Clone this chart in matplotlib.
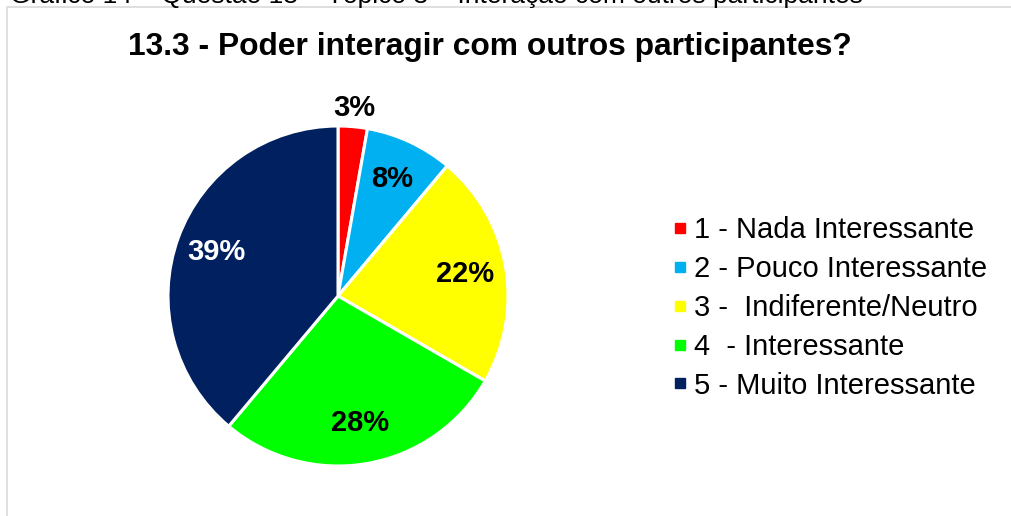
import matplotlib
matplotlib.use("Agg")
import matplotlib.pyplot as plt
from matplotlib.patches import Rectangle
from matplotlib.lines import Line2D
import numpy as np

plt.rcParams['font.family'] = ['Liberation Sans', 'DejaVu Sans']

categories = ["1 - Nada Interessante", "2 - Pouco Interessante", "3 -  Indiferente/Neutro",
              "4  - Interessante", "5 - Muito Interessante"]
counts = [1, 3, 8, 10, 14]
colors = ["#FF0000", "#00B0F0", "#FFFF00", "#00FF00", "#002060"]
label_colors = ["black", "black", "black", "black", "white"]
title = "13.3 - Poder interagir com outros participantes?"
caption = "Gráfico 14 – Questão 13 – Tópico 3 – Interação com outros participantes"

fig = plt.figure(figsize=(10.11, 5.16), dpi=100)
fig.patch.set_facecolor("white")

# outer frame (light gray), extends past right/bottom edges
fig.patches.append(Rectangle((7/1011, -0.2), 1.2, 1.2 - 6.5/516, transform=fig.transFigure,
                             fill=False, edgecolor="#D9D9D9", linewidth=1.2))

# caption partly clipped at the very top, as in the reference
fig.text(10/1011, 1 - 3/516, caption, fontsize=19, va="baseline", ha="left", color="black")

fig.text(490/1011, 1 - 47/516, title, fontsize=22.9, fontweight="bold", ha="center", va="center")

ax = fig.add_axes([168/1011, (516-466)/516, 340/1011, 340/516])
wedges, texts, autotexts = ax.pie(
    counts, colors=colors, startangle=90, counterclock=False,
    autopct=lambda p: f"{p:.0f}%", pctdistance=0.76,
    wedgeprops=dict(edgecolor="white", linewidth=2.2),
    textprops=dict(fontsize=21, fontweight="bold"))
for t, c in zip(autotexts, label_colors):
    t.set_color(c)
# first (small) label placed outside
x0, y0 = autotexts[0].get_position()
autotexts[0].set_position((x0 * 1.11 / 0.76, y0 * 1.11 / 0.76))
ax.set_xlim(-1, 1)
ax.set_ylim(-1, 1)
ax.set_aspect("equal")
ax.axis("off")

handles = [Line2D([], [], linestyle="none", marker="s", markersize=7.3,
                  markerfacecolor=c, markeredgecolor=c) for c in colors]
fig.legend(handles, categories, loc="center left", bbox_to_anchor=(674/1011, 1 - 308/516),
           frameon=False, fontsize=21, handlelength=0.4, handletextpad=0.3,
           labelspacing=0.37, borderpad=0, borderaxespad=0)

fig.savefig("out.png", dpi=100, facecolor="white")
